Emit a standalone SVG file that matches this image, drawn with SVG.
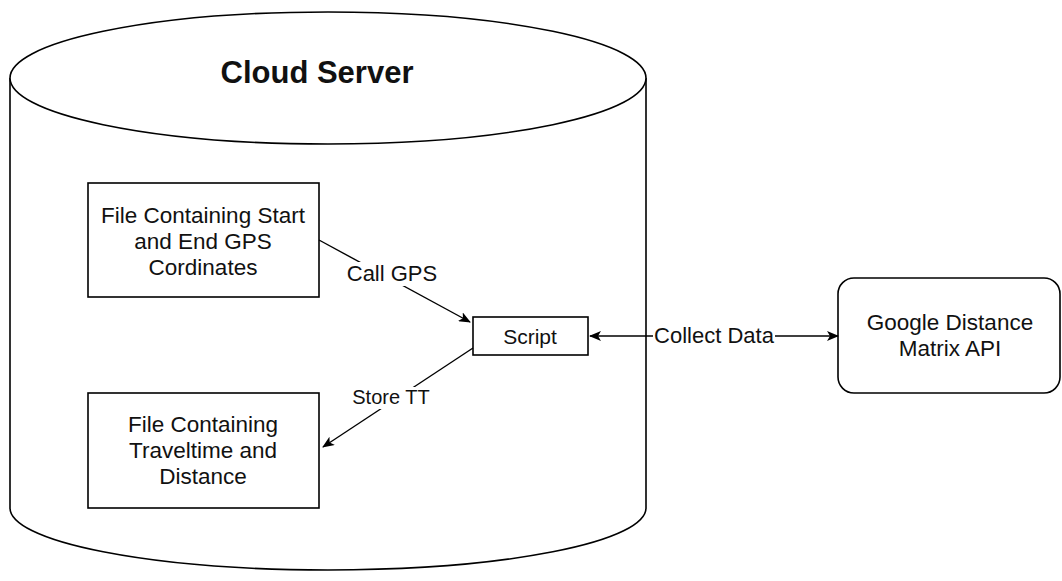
<svg xmlns="http://www.w3.org/2000/svg" width="1062" height="581" viewBox="0 0 1062 581">
<style>
.shape{fill:#fff;stroke:#000;stroke-width:1.6}
.edge{fill:none;stroke:#000;stroke-width:1.4}
.t{font-family:"Liberation Sans",Arial,sans-serif;font-size:22px;fill:#111;text-anchor:middle;dominant-baseline:central}
.lbl{fill:#fff;stroke:none}
</style>
<defs>
<marker id="ah" viewBox="0 0 12 10" refX="11" refY="5" markerWidth="12" markerHeight="10" markerUnits="userSpaceOnUse" orient="auto-start-reverse">
<path d="M0,0 L12,5 L0,10 L3,5 Z" fill="#000"/>
</marker>
</defs>
<rect width="1062" height="581" fill="#fff"/>
<g id="cloud-server">
<path class="shape" d="M10,78 L10,508 A318,62 0 0 0 646,508 L646,78"/>
<ellipse class="shape" cx="328" cy="78" rx="318" ry="66"/>
<text class="t" x="317" y="72" style="font-size:31px;font-weight:bold">Cloud Server</text>
</g>
<g id="gps-file">
<rect class="shape" x="88" y="183" width="231" height="114"/>
<text class="t" x="203" y="215" style="font-size:22.5px">File Containing Start</text>
<text class="t" x="203" y="241" style="font-size:22.5px">and End GPS</text>
<text class="t" x="203" y="267" style="font-size:22.5px">Cordinates</text>
</g>
<g id="tt-file">
<rect class="shape" x="88" y="393" width="231" height="115"/>
<text class="t" x="203" y="424" style="font-size:22.5px">File Containing</text>
<text class="t" x="203" y="450" style="font-size:22.5px">Traveltime and</text>
<text class="t" x="203" y="476" style="font-size:22.5px">Distance</text>
</g>
<g id="script">
<rect class="shape" x="473" y="317" width="115" height="38"/>
<text class="t" x="530" y="336" style="font-size:21px">Script</text>
</g>
<g id="google-api">
<rect class="shape" x="838" y="278" width="222" height="115" rx="16" ry="16"/>
<text class="t" x="950" y="322" style="font-size:22.5px">Google Distance</text>
<text class="t" x="950" y="348" style="font-size:22.5px">Matrix API</text>
</g>
<g id="connectors">
<path class="edge" d="M319,240 L470,322" marker-end="url(#ah)"/>
<rect class="lbl" x="346" y="262" width="93" height="24"/>
<text class="t" x="392" y="273">Call GPS</text>
<path class="edge" d="M473,348 L323,447" marker-end="url(#ah)"/>
<rect class="lbl" x="352" y="387" width="80" height="22"/>
<text class="t" x="391" y="397" style="font-size:20px">Store TT</text>
<path class="edge" d="M590,336 L838,336" marker-start="url(#ah)" marker-end="url(#ah)"/>
<rect class="lbl" x="653" y="324" width="122" height="24"/>
<text class="t" x="714" y="335">Collect Data</text>
</g>
</svg>
